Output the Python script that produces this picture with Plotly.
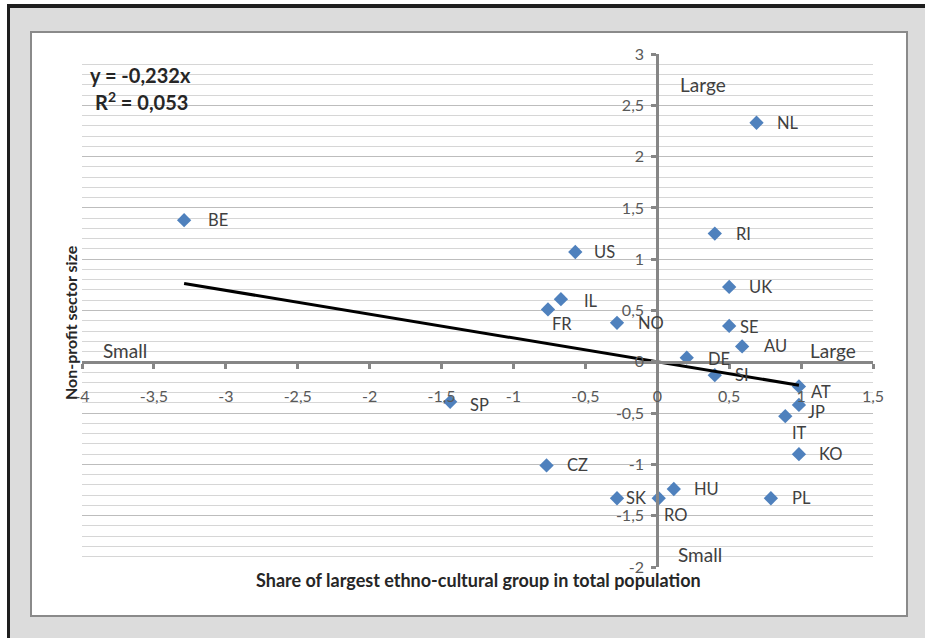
import plotly.graph_objects as go

# ---------------- data ----------------
countries = ["BE", "US", "IL", "FR", "NO", "NL", "RI", "UK", "SE", "AU", "DE",
             "SI", "AT", "JP", "IT", "KO", "CZ", "HU", "SK", "RO", "PL", "SP"]
share_x = [-3.29, -0.57, -0.67, -0.76, -0.28, 0.69, 0.40, 0.50, 0.50, 0.59, 0.205,
           0.40, 0.985, 0.985, 0.89, 0.985, -0.77, 0.115, -0.28, 0.01, 0.79, -1.44]
npo_y = [1.38, 1.07, 0.61, 0.51, 0.38, 2.33, 1.25, 0.73, 0.35, 0.15, 0.04,
         -0.13, -0.24, -0.42, -0.53, -0.90, -1.01, -1.24, -1.33, -1.33, -1.33, -0.39]
slope = -0.232
r2_text = "0,053"
x_tickvals = [-4, -3.5, -3, -2.5, -2, -1.5, -1, -0.5, 0, 0.5, 1, 1.5]
x_ticktext = ["-4", "-3,5", "-3", "-2,5", "-2", "-1,5", "-1", "-0,5", "0", "0,5", "1", "1,5"]
y_tickvals = [-2, -1.5, -1, -0.5, 0, 0.5, 1, 1.5, 2, 2.5, 3]
y_ticktext = ["-2", "-1,5", "-1", "-0,5", "0", "0,5", "1", "1,5", "2", "2,5", "3"]

# label offsets in pixels (dx right, dy down) -- styling only
label_shift = {
    "BE": (22, 0), "US": (17, 0), "IL": (21, 2), "FR": (2, 15), "NO": (19, 0),
    "NL": (18, 0), "RI": (19, 0), "UK": (18, 0), "SE": (9, 1), "AU": (20, 0),
    "DE": (19, 1), "SI": (18, 0), "AT": (10, 6), "JP": (7, 7), "IT": (5, 17),
    "KO": (18, 0), "CZ": (18, 0), "HU": (18, 0), "SK": (7, 0), "RO": (3, 17),
    "PL": (19, 0), "SP": (18, 3),
}

FONT = "Lato, Open Sans, sans-serif"
W, H = 925, 638
L, R, T, B = 82, 873, 54, 567


def px(xp):
    return (xp - L) / (R - L)


def py(yp):
    return (B - yp) / (B - T)


fig = go.Figure()

fig.add_trace(go.Scatter(
    x=share_x, y=npo_y, mode="markers",
    marker=dict(symbol="diamond", size=11, color="#4f81bd"),
    hoverinfo="text", text=countries, showlegend=False,
))

xmin, xmax = min(share_x), max(share_x)
fig.add_trace(go.Scatter(
    x=[xmin, xmax], y=[slope * xmin, slope * xmax], mode="lines",
    line=dict(color="#000000", width=3), showlegend=False, hoverinfo="skip",
))

annotations = []
for c, xv, yv in zip(countries, share_x, npo_y):
    dx, dy = label_shift[c]
    annotations.append(dict(
        x=xv, y=yv, xref="x", yref="y", text=c, showarrow=False,
        xanchor="left", yanchor="middle", xshift=dx, yshift=-dy,
        font=dict(family=FONT, size=16.5, color="#404040"),
    ))

# quadrant labels
for txt, xv, yv in [("Large", 0.32, 2.70), ("Small", -3.70, 0.11),
                    ("Large", 1.22, 0.11), ("Small", 0.30, -1.88)]:
    annotations.append(dict(
        x=xv, y=yv, xref="x", yref="y", text=txt, showarrow=False,
        xanchor="center", yanchor="middle",
        font=dict(family=FONT, size=19, color="#404040"),
    ))

# equation
annotations.append(dict(
    x=px(88), y=py(75), xref="paper", yref="paper", text=f"y = {str(slope).replace('.', ',')}x",
    showarrow=False, xanchor="left", yanchor="middle",
    font=dict(family=FONT, size=20, color="#262626", weight="bold"),
))
annotations.append(dict(
    x=px(93), y=py(101), xref="paper", yref="paper", text=f"R<sup>2</sup> = {r2_text}",
    showarrow=False, xanchor="left", yanchor="middle",
    font=dict(family=FONT, size=20, color="#262626", weight="bold"),
))

# axis titles
annotations.append(dict(
    x=px(478), y=py(580), xref="paper", yref="paper",
    text="Share of largest ethno-cultural group in total population",
    showarrow=False, xanchor="center", yanchor="middle",
    font=dict(family=FONT, size=18, color="#262626", weight="bold"),
))
annotations.append(dict(
    x=px(70), y=py(323), xref="paper", yref="paper",
    text="Non-profit sector size", textangle=-90,
    showarrow=False, xanchor="center", yanchor="middle",
    font=dict(family=FONT, size=16, color="#262626", weight="bold"),
))

shapes = [
    # outer gray panel
    dict(type="rect", xref="paper", yref="paper", x0=px(8.5), x1=px(960), y0=py(6), y1=py(680),
         fillcolor="#dcdcdc", line=dict(width=0), layer="below"),
    dict(type="line", xref="paper", yref="paper", x0=px(7), x1=px(960), y0=py(6), y1=py(6),
         line=dict(color="#1e1e1e", width=4), layer="below"),
    dict(type="line", xref="paper", yref="paper", x0=px(8.5), x1=px(8.5), y0=py(4), y1=py(680),
         line=dict(color="#1e1e1e", width=3), layer="below"),
    # white chart box
    dict(type="rect", xref="paper", yref="paper", x0=px(31), x1=px(907), y0=py(32), y1=py(616),
         fillcolor="#ffffff", line=dict(color="#8a8a8a", width=2), layer="below"),
]

fig.update_layout(
    width=W, height=H, autosize=False,
    margin=dict(l=L, r=W - R, t=T, b=H - B, pad=0),
    paper_bgcolor="#ffffff", plot_bgcolor="rgba(0,0,0,0)",
    separators=",.",
    font=dict(family=FONT, size=15, color="#595959"),
    annotations=annotations, shapes=shapes,
    xaxis=dict(
        range=[-4, 1.5], anchor="free", position=2 / 5,
        showgrid=False, zeroline=False,
        showline=True, linecolor="#868686", linewidth=3,
        ticks="outside", ticklen=5, tickwidth=3, tickcolor="#868686",
        tickvals=x_tickvals, ticktext=x_ticktext, ticklabelstandoff=14,
        tickfont=dict(family=FONT, size=16, color="#595959"),
    ),
    yaxis=dict(
        range=[-2, 3], anchor="free", position=4 / 5.5,
        showgrid=True, gridcolor="#bdbdbd", gridwidth=1, zeroline=False,
        minor=dict(dtick=0.1, showgrid=True, gridcolor="#d6d6d6", gridwidth=1),
        showline=True, linecolor="#868686", linewidth=3,
        ticks="outside", ticklen=5, tickwidth=3, tickcolor="#868686",
        tickvals=y_tickvals, ticktext=y_ticktext, ticklabelstandoff=4,
        tickfont=dict(family=FONT, size=16, color="#595959"),
    ),
)

fig.write_html("out.html", config={"displayModeBar": False},
               post_script="document.body.style.margin='0';")
